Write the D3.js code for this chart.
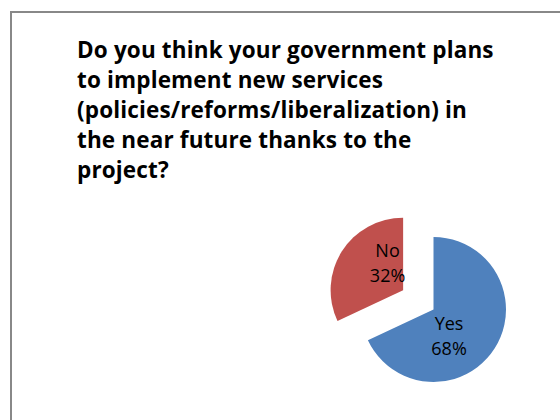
<!DOCTYPE html>
<html>
<head>
<meta charset="utf-8">
<script src="https://cdn.jsdelivr.net/npm/d3@7"></script>
<style>
  html, body { margin: 0; padding: 0; background: #fff; }
  svg { display: block; }
</style>
</head>
<body>
<svg id="chart" width="560" height="420"></svg>
<script>
// Survey answers
const categories = ["Yes", "No"];
const values = [68, 32];
const percentLabels = ["68%", "32%"];
const titleLines = [
  "Do you think your government plans",
  "to implement new services",
  "(policies/reforms/liberalization) in",
  "the near future thanks to the",
  "project?"
];

const svg = d3.select("#chart");

// Chart area frame (runs past the right and bottom edges)
svg.append("rect")
  .attr("x", 11).attr("y", 12)
  .attr("width", 620).attr("height", 480)
  .attr("fill", "#fff")
  .attr("stroke", "#888")
  .attr("stroke-width", 2);

// Title
const title = svg.append("text")
  .attr("font-family", "'Open Sans', Lato, sans-serif")
  .attr("font-weight", "bold")
  .attr("font-size", 22.5)
  .attr("letter-spacing", 0.15)
  .attr("fill", "#000");
title.selectAll("tspan")
  .data(titleLines)
  .join("tspan")
  .attr("x", 77)
  .attr("y", (d, i) => 58 + i * 30)
  .text(d => d);

// Pie
const cx = 433.5, cy = 309.5, radius = 72.5, explode = 36;
const color = d3.scaleOrdinal().domain(categories).range(["#4F81BD", "#C0504D"]);

const pie = d3.pie().sort(null).value(d => d.value);
const arcs = pie(categories.map((c, i) => ({ cat: c, value: values[i], label: percentLabels[i] })));
const arc = d3.arc().innerRadius(0).outerRadius(radius);

const g = svg.append("g").attr("transform", `translate(${cx},${cy})`);

const offsetOf = d => {
  if (d.data.cat !== "No") return [0, 0];
  const mid = (d.startAngle + d.endAngle) / 2;
  return [Math.sin(mid) * explode, -Math.cos(mid) * explode];
};

const slices = g.selectAll("g.slice")
  .data(arcs)
  .join("g")
  .attr("class", "slice")
  .attr("transform", d => `translate(${offsetOf(d)})`);

slices.append("path")
  .attr("d", arc)
  .attr("fill", d => color(d.data.cat));

// Data labels: category name and percent
const labelR = 31, labelShift = 0.48;
slices.each(function(d) {
  const mid = (d.startAngle + d.endAngle) / 2 + labelShift;
  const lx = Math.sin(mid) * labelR;
  const ly = -Math.cos(mid) * labelR;
  const t = d3.select(this).append("text")
    .attr("text-anchor", "middle")
    .attr("font-family", "'Open Sans', Lato, sans-serif")
    .attr("font-size", 18)
    .attr("fill", "#000");
  t.append("tspan").attr("x", lx).attr("y", ly - 6).text(d.data.cat);
  t.append("tspan").attr("x", lx).attr("y", ly + 19).text(d.data.label);
});
</script>
</body>
</html>
